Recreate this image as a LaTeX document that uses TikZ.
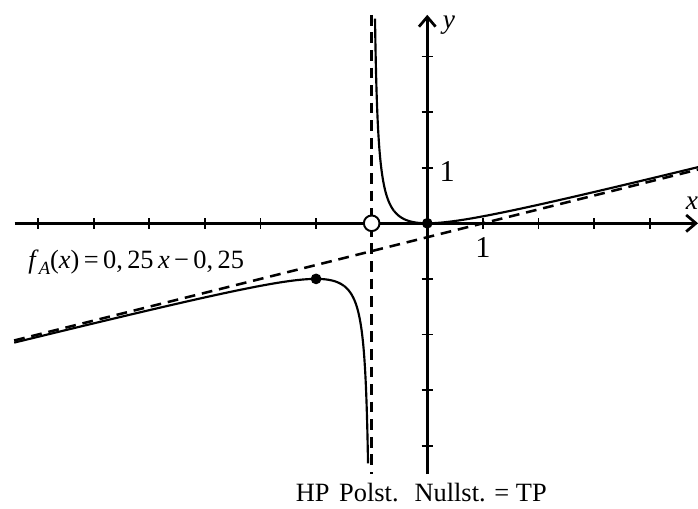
\documentclass[tikz,border=0pt]{standalone}
\usepackage{fontspec}
\setmainfont{Liberation Serif}
\usetikzlibrary{arrows.meta,positioning,calc}

\tikzset{
    axisline/.style={line width=1.4pt, -{Straight Barb[length=5pt,width=8.5pt]}},
    tickmark/.style={line width=1pt},
    graphline/.style={line width=1.1pt},
    asymline/.style={line width=1.3pt, dash pattern=on 5.5pt off 3.5pt},
    lbl/.style={font=\fontsize{13.5}{16}\selectfont, inner sep=0pt},
    dotfull/.style={circle, fill=black, inner sep=0pt, minimum size=5.5pt},
    dotopen/.style={circle, draw=black, fill=white, line width=1pt, inner sep=0pt, minimum size=8pt}
}

\begin{document}
\begin{tikzpicture}
    \useasboundingbox (-7.685,-5.121) rectangle (4.869,4.016);

    % Axes
    \coordinate (xleft) at (-7.42,0);
    \coordinate (xright) at (4.87,0);
    \coordinate (ybottom) at (0,-4.51);
    \coordinate (ytop) at (0,3.75);
    \draw[axisline] (xleft) -- (xright);
    \draw[axisline] (ybottom) -- (ytop);
    \foreach \x in {-7,...,-2,1,2,3,4} {
        \draw[tickmark] (\x,-0.1) -- (\x,0.1);
    }
    \foreach \y in {-4,...,-1,1,2,3} {
        \draw[tickmark] (-0.1,\y) -- (0.1,\y);
    }
    \node[lbl, font=\fontsize{14}{16}\selectfont\itshape] (xlabel) at (4.76,0.36) {x};
    \node[lbl, font=\fontsize{14}{16}\selectfont\itshape] (ylabel) at (0.39,3.56) {y};
    \node[lbl, font=\fontsize{15.5}{17}\selectfont] (xone) at (1,-0.44) {1};
    \node[lbl, font=\fontsize{15.5}{17}\selectfont] (yone) at (0.36,0.93) {1};

    % Asymptotes
    \coordinate (poletop) at (-1,3.75);
    \coordinate (polebottom) at (-1,-4.51);
    \coordinate (asleft) at (-7.43,-2.1075);
    \coordinate (asright) at (4.87,0.9675);
    \draw[asymline] (poletop) -- (polebottom);
    \draw[asymline] (asleft) -- (asright);

    % Graph
    \draw[graphline, domain=-0.94:-0.6, samples=200, smooth] plot (\x,{\x*\x/(4*(\x+1))});
    \draw[graphline, domain=-0.6:4.87, samples=120, smooth] plot (\x,{\x*\x/(4*(\x+1))});
    \draw[graphline, domain=-7.43:-1.5, samples=120, smooth] plot (\x,{\x*\x/(4*(\x+1))});
    \draw[graphline, domain=-1.5:-1.064, samples=200, smooth] plot (\x,{\x*\x/(4*(\x+1))});

    % Points
    \node[dotfull] (hp) at (-2,-1) {};
    \node[dotfull] (tp) at (0,0) {};
    \node[dotopen] (pole) at (-1,0) {};

    % Labels
    \node[lbl, anchor=base west] (asymtext) at (-7.18,-0.81)
        {\textit{f}\raisebox{-0.5ex}{\fontsize{9.5}{9.5}\selectfont\itshape A}(\textit{x})\,=\,0,\,25\,\textit{x}\,−\,0,\,25};
    \node[lbl, anchor=base] (hptext) at (-2.06,-5.0) {HP};
    \node[lbl, anchor=base] (poltext) at (-1.05,-5.0) {Polst.};
    \node[lbl, anchor=base] (nulltext) at (0.96,-5.0) {Nullst. = TP};
\end{tikzpicture}
\end{document}
